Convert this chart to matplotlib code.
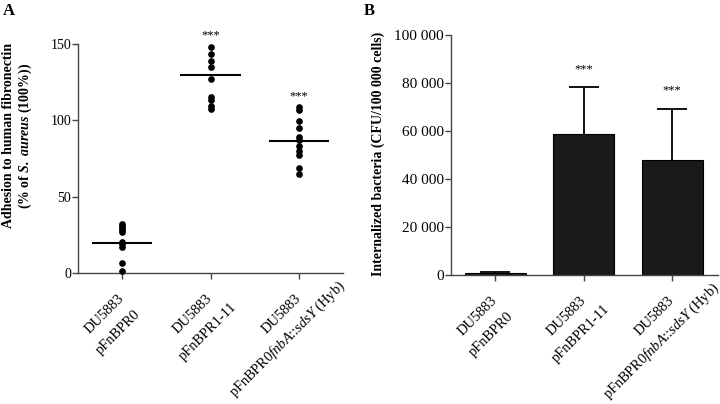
import matplotlib
matplotlib.use("Agg")
import matplotlib.pyplot as plt
import numpy as np

plt.rcParams['font.family'] = ['Liberation Serif', 'DejaVu Serif']
plt.rcParams['mathtext.fontset'] = 'custom'
plt.rcParams['mathtext.rm'] = 'Liberation Serif'
plt.rcParams['mathtext.it'] = 'Liberation Serif:italic'
plt.rcParams['mathtext.bf'] = 'Liberation Serif:bold'
plt.rcParams['mathtext.bfit'] = 'Liberation Serif:italic:bold'

# ---- data ----
categories = ["DU5883\npFnBPR0",
              "DU5883\npFnBPR1-11",
              r"DU5883" "\n" r"pFnBPR0$\mathit{fnbA}\text{::}\mathit{sdsY}$ (Hyb)"]

adhesion_g1 = [32.4, 31.1, 29.7, 28.4, 27.1, 20.1, 18.8, 17.1, 6.8, 1.5]
adhesion_g2 = [147.8, 143.5, 139.1, 135.1, 126.8, 115.5, 113.2, 109.3, 107.6]
adhesion_g3 = [108.9, 106.7, 99.7, 94.9, 89.2, 87.0, 83.1, 80.0, 77.0, 68.7, 64.7]
adhesion_mean = [19.7, 129.5, 86.6]
adhesion_sig = ["", "***", "***"]
adhesion_sig_y = [None, 156, 116]

internal_mean = [1000, 58800, 47900]
internal_err = [300, 19400, 21100]
internal_sig = ["", "***", "***"]
internal_sig_y = [None, 85800, 76800]

a_yticks = [0, 50, 100, 150]
b_yticks = [0, 20000, 40000, 60000, 80000, 100000]
b_yticklabels = ["0", "20 000", "40 000", "60 000", "80 000", "100 000"]

W, H = 720, 404
fig = plt.figure(figsize=(W / 100, H / 100), dpi=100)

axA = fig.add_axes([78 / W, 1 - 273 / H, 265 / W, 229 / H])
axB = fig.add_axes([451 / W, 1 - 275 / H, 267 / W, 240 / H])

spine_col = '#444444'
PX = 0.72  # points per pixel at dpi 100

def style(ax, fs):
    for s in ['top', 'right']:
        ax.spines[s].set_visible(False)
    for s in ['left', 'bottom']:
        ax.spines[s].set_color(spine_col)
        ax.spines[s].set_linewidth(1.0)
    ax.tick_params(axis='both', direction='out', length=4, width=1.0,
                   color=spine_col, labelsize=fs, pad=1)
    ax.set_xticks(range(len(categories)))
    ax.set_xticklabels([''] * len(categories))

# layout of the rotated two-line category labels (pixels)
line1_off = (-17.5, 41)      # centre of first line relative to tick / axis
line_gap = 22.5              # perpendicular distance between lines
line2_shift = [-4, -2, -13]  # shift of the second line along text direction
u = np.array([0.7071, 0.7071])    # along text (offset points, y up)
v = np.array([0.7071, -0.7071])   # to next line

def xlabels(ax):
    for i, lab in enumerate(categories):
        l1, l2 = lab.split("\n")
        p1 = np.array([line1_off[0], -line1_off[1]], dtype=float)
        p2 = p1 + v * line_gap + u * line2_shift[i]
        for txt, p in ((l1, p1), (l2, p2)):
            ax.annotate(txt, xy=(i, 0), xycoords=('data', 'axes fraction'),
                        xytext=(p[0] * PX, p[1] * PX), textcoords='offset points',
                        rotation=45, ha='center', va='center',
                        rotation_mode='anchor', fontsize=10.4,
                        annotation_clip=False)

# ---- Panel A ----
style(axA, 10)
groups = [adhesion_g1, adhesion_g2, adhesion_g3]
for i, g in enumerate(groups):
    axA.plot([i] * len(g), g, 'o', color='black', markersize=3.8,
             clip_on=False, zorder=3)
    axA.plot([i - 0.34, i + 0.34], [adhesion_mean[i]] * 2, color='black',
             lw=1.5, zorder=4, solid_capstyle='butt')
    if adhesion_sig[i]:
        axA.text(i, adhesion_sig_y[i], adhesion_sig[i], ha='center', va='center',
                 fontsize=9)
axA.set_xlim(-0.5, 2.5)
axA.set_ylim(0, 150)
axA.set_yticks(a_yticks)
axA.set_ylabel("Adhesion to human fibronectin\n"
               r"(% of $\mathbfit{S.\ aureus}$ (100%))",
               fontweight='bold', fontsize=10, linespacing=1.15, va='center')
axA.yaxis.set_label_coords(-0.226, 0.60)
xlabels(axA)

# ---- Panel B ----
style(axB, 11)
x = np.arange(len(categories))
axB.bar(x, internal_mean, width=0.69, color='#1a1a1a', edgecolor='black',
        linewidth=0.8, zorder=2)
eb = axB.errorbar(x, internal_mean, yerr=[np.zeros(len(x)), internal_err],
                  fmt='none', ecolor='black', elinewidth=1.3, capsize=10.5,
                  capthick=1.3, zorder=3)
eb[1][0].set_visible(False)  # no lower caps
for i in range(len(x)):
    if internal_sig[i]:
        axB.text(i, internal_sig_y[i], internal_sig[i], ha='center', va='center',
                 fontsize=9)
axB.set_xlim(-0.5, 2.52)
axB.set_ylim(0, 100000)
axB.set_yticks(b_yticks)
axB.set_yticklabels(b_yticklabels)
axB.set_ylabel("Internalized bacteria (CFU/100 000 cells)", fontweight='bold',
               fontsize=10, va='center')
axB.yaxis.set_label_coords(-0.273, 0.506)
xlabels(axB)

fig.text(3 / W, 1 - 3 / H, "A", fontsize=12, fontweight='bold', ha='left', va='top')
fig.text(364 / W, 1 - 3 / H, "B", fontsize=12, fontweight='bold', ha='left', va='top')

fig.savefig("out.png", dpi=100)
